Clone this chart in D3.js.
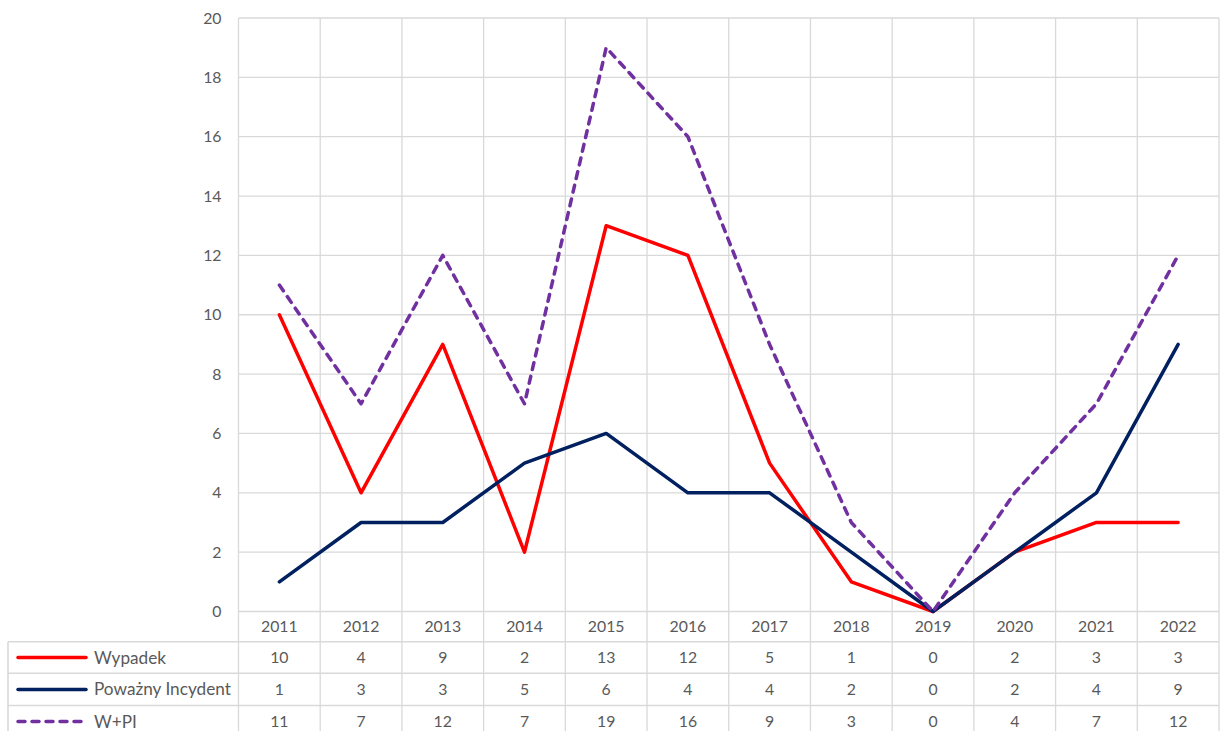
<!DOCTYPE html>
<html>
<head>
<meta charset="utf-8">
<script src="https://cdn.jsdelivr.net/npm/d3@7"></script>
<style>
  html, body { margin: 0; padding: 0; background: #ffffff; }
  svg text { font-family: Lato, "Open Sans", sans-serif; fill: #595959; }
</style>
</head>
<body>
<svg id="chart" width="1223" height="731"></svg>
<script>
// Years on the category axis
const years = ["2011","2012","2013","2014","2015","2016","2017","2018","2019","2020","2021","2022"];
// Series values per year
const wypadek = [10, 4, 9, 2, 13, 12, 5, 1, 0, 2, 3, 3];
const powaznyIncydent = [1, 3, 3, 5, 6, 4, 4, 2, 0, 2, 4, 9];
const wPlusPi = [11, 7, 12, 7, 19, 16, 9, 3, 0, 4, 7, 12];
// Value-axis ticks
const yTicks = [0, 2, 4, 6, 8, 10, 12, 14, 16, 18, 20];

const series = [
  { name: "Wypadek", values: wypadek, color: "#ff0000", dash: null },
  { name: "Poważny Incydent", values: powaznyIncydent, color: "#002060", dash: null },
  { name: "W+PI", values: wPlusPi, color: "#7030a0", dash: "7,7" }
];

const svg = d3.select("#chart");
const plot = { left: 238.5, right: 1219, top: 18, bottom: 611.5 };
const tableLeft = 8;
const rowLines = [641.7, 673.3, 705.5, 737.7];
const gridColor = "#d9d9d9";
const fontSize = 15.8;
const labelSize = 17.2;

const x = d3.scaleBand().domain(years).range([plot.left, plot.right]);
const y = d3.scaleLinear().domain([0, 20]).range([plot.bottom, plot.top]);

// Horizontal gridlines
svg.append("g").selectAll("line").data(yTicks).join("line")
  .attr("x1", plot.left).attr("x2", plot.right)
  .attr("y1", d => y(d)).attr("y2", d => y(d))
  .attr("stroke", gridColor).attr("stroke-width", 1.3);

// Vertical gridlines at category boundaries, running down through the data table
const bounds = years.map(d => x(d)).concat([plot.right]);
svg.append("g").selectAll("line").data(bounds).join("line")
  .attr("x1", d => d).attr("x2", d => d)
  .attr("y1", plot.top).attr("y2", 731)
  .attr("stroke", gridColor).attr("stroke-width", 1.3);

// Data-table row borders
svg.append("g").selectAll("line").data(rowLines).join("line")
  .attr("x1", tableLeft).attr("x2", plot.right)
  .attr("y1", d => d).attr("y2", d => d)
  .attr("stroke", gridColor).attr("stroke-width", 1.6);
svg.append("line")
  .attr("x1", tableLeft).attr("x2", tableLeft)
  .attr("y1", rowLines[0]).attr("y2", 731)
  .attr("stroke", gridColor).attr("stroke-width", 1.6);

// Value axis labels
const yAxis = d3.axisLeft(y).tickValues(yTicks).tickSize(0).tickPadding(17);
const yg = svg.append("g").attr("transform", `translate(${plot.left},0)`).call(yAxis);
yg.select(".domain").remove();
yg.selectAll("text").style("font-size", fontSize + "px").attr("fill", "#595959")
  .style("font-family", "Lato, 'Open Sans', sans-serif");

// Category labels (header row of the table)
const xAxis = d3.axisBottom(x).tickSize(0).tickPadding(0);
const xg = svg.append("g").attr("transform", `translate(0,${(plot.bottom + rowLines[0]) / 2})`).call(xAxis);
xg.select(".domain").remove();
xg.selectAll("text").style("font-size", fontSize + "px").attr("fill", "#595959")
  .attr("dy", "0.35em").attr("y", 0)
  .style("font-family", "Lato, 'Open Sans', sans-serif");

// Lines
const line = d3.line().x((d, i) => x(years[i]) + x.bandwidth() / 2).y(d => y(d));
svg.append("g").selectAll("path").data(series).join("path")
  .attr("d", d => line(d.values))
  .attr("fill", "none")
  .attr("stroke", d => d.color)
  .attr("stroke-width", 3.5)
  .attr("stroke-linejoin", "round")
  .attr("stroke-linecap", "round")
  .attr("stroke-dasharray", d => d.dash);

// Data table rows: legend key, name, values
series.forEach((s, r) => {
  const cy = (rowLines[r] + rowLines[r + 1]) / 2;
  const g = svg.append("g");
  g.append("line")
    .attr("x1", 18).attr("x2", 86).attr("y1", cy).attr("y2", cy)
    .attr("stroke", s.color).attr("stroke-width", 3.5)
    .attr("stroke-linecap", "round")
    .attr("stroke-dasharray", s.dash);
  g.append("text")
    .attr("x", 94).attr("y", cy).attr("dy", "0.35em")
    .style("font-size", labelSize + "px")
    .text(s.name);
  g.selectAll("text.val").data(s.values).join("text")
    .attr("class", "val")
    .attr("x", (d, i) => x(years[i]) + x.bandwidth() / 2)
    .attr("y", cy).attr("dy", "0.35em")
    .attr("text-anchor", "middle")
    .style("font-size", fontSize + "px")
    .text(d => d);
});
</script>
</body>
</html>
